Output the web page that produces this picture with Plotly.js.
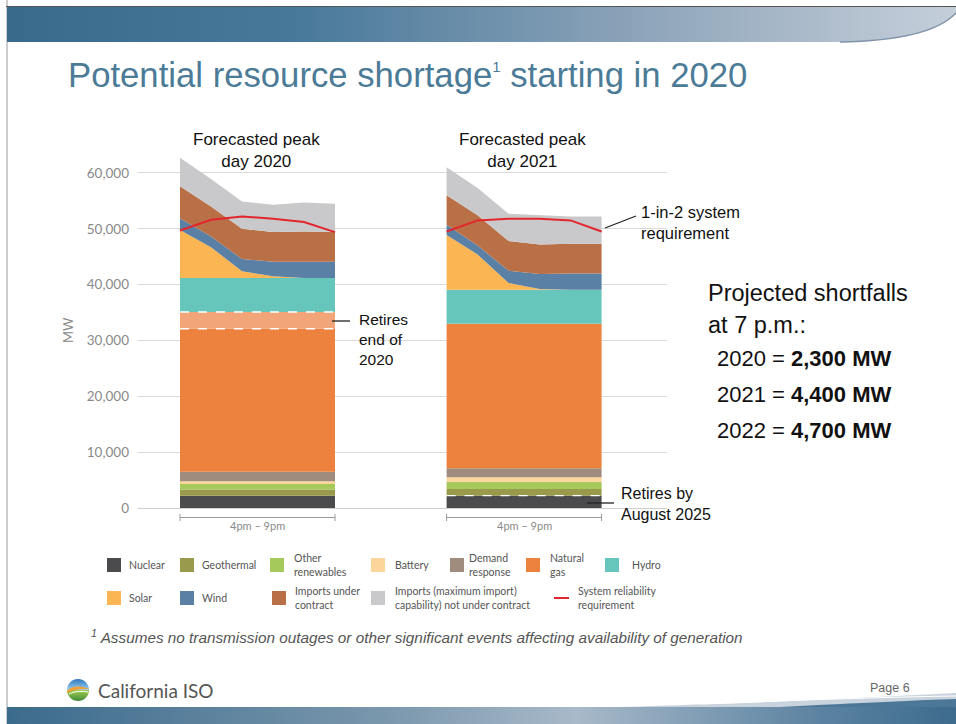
<!DOCTYPE html>
<html><head><meta charset="utf-8">
<script src="https://cdn.plot.ly/plotly-3.0.1.min.js"></script>
<style>
html,body{margin:0;padding:0;background:#fff;}
#wrap{position:relative;width:956px;height:724px;overflow:hidden;background:#fff;}
#deco{position:absolute;left:0;top:0;}
#chart{position:absolute;left:0;top:0;width:956px;height:724px;}
</style></head>
<body><div id="wrap">
<svg id="deco" width="956" height="724" xmlns="http://www.w3.org/2000/svg">
<defs>
<linearGradient id="hdr" x1="0" x2="1" y1="0" y2="0">
<stop offset="0" stop-color="#3a6a8b"/><stop offset="0.3" stop-color="#47789a"/><stop offset="0.65" stop-color="#8aa2b8"/><stop offset="0.9" stop-color="#b5c2d0"/><stop offset="1" stop-color="#c5cfdb"/>
</linearGradient>
<linearGradient id="ftr" x1="0" x2="1" y1="0" y2="0">
<stop offset="0" stop-color="#3b6b8c"/><stop offset="0.4" stop-color="#7a97ad"/><stop offset="0.6" stop-color="#a8b9c9"/><stop offset="0.85" stop-color="#5d84a2"/><stop offset="1" stop-color="#3d6b8d"/>
</linearGradient>
<linearGradient id="globeTop" x1="0" x2="0" y1="0" y2="1">
<stop offset="0" stop-color="#2f78bd"/><stop offset="1" stop-color="#9fd0f0"/>
</linearGradient>
<linearGradient id="globeBot" x1="0" x2="0" y1="0" y2="1">
<stop offset="0" stop-color="#a6cf4f"/><stop offset="1" stop-color="#3e8a3a"/>
</linearGradient>
</defs>
<line x1="7" y1="0" x2="7" y2="724" stroke="#9a9a9a" stroke-width="1"/>
<line x1="6" y1="6.5" x2="956" y2="6.5" stroke="#555" stroke-width="1"/>
<rect x="7" y="7" width="949" height="35" fill="url(#hdr)"/>
<path d="M 840 42 C 905 41 940 30 956 13 L 956 42 Z" fill="#ffffff"/>
<path d="M 840 42 C 905 41 940 30 956 13" fill="none" stroke="#8094aa" stroke-width="1.5"/>
<rect x="7" y="707" width="949" height="17" fill="url(#ftr)"/>
<path d="M 620 707 C 760 703 880 697 956 693 L 956 707 Z" fill="#c9d3dd"/>
<path d="M 780 707 C 860 703 920 700 956 699 L 956 707 Z" fill="#4d7797"/>
<path d="M 700 704 C 800 700 890 697 956 696" fill="none" stroke="#ffffff" stroke-width="1.2"/>
<g transform="translate(78,690)">
<path d="M -11 0 A 11 11 0 0 1 11 0 Z" fill="url(#globeTop)"/>
<path d="M -11 0 A 11 11 0 0 0 11 0 Z" fill="url(#globeBot)"/>
<path d="M -11 1 C -5 -5 4 -4 11 -1 C 4 -1 -4 -1 -11 3 Z" fill="#f2a033"/>
<path d="M -9 4 C -3 1 4 1 10 2" fill="none" stroke="#ffffff" stroke-width="1"/>
</g>
</svg>
<div id="chart"></div>
</div>
<script>
// ---------- data (MW) ----------
const hours = ['4pm', '5pm', '6pm', '7pm', '8pm', '9pm'];

const nuclear2020      = [2200, 2200, 2200, 2200, 2200, 2200];
const geothermal2020   = [1100, 1100, 1100, 1100, 1100, 1100];
const otherRen2020     = [1000, 1000, 1000, 1000, 1000, 1000];
const battery2020      = [500, 500, 500, 500, 500, 500];
const demandResp2020   = [1700, 1700, 1700, 1700, 1700, 1700];
const naturalGas2020   = [25600, 25600, 25600, 25600, 25600, 25600];
const gasRetire2020    = [3000, 3000, 3000, 3000, 3000, 3000];
const hydro2020        = [6100, 6100, 6100, 6100, 6100, 6100];
const solar2020        = [8600, 5500, 1200, 300, 0, 0];
const wind2020         = [2100, 1900, 2200, 2600, 2900, 2900];
const importsCon2020   = [5700, 5400, 5400, 5300, 5400, 5300];
const importsMax2020   = [5100, 4900, 4900, 4900, 5200, 5100];
const requirement2020  = [49700, 51600, 52200, 51800, 51200, 49400];

const nuclear2021      = [2200, 2200, 2200, 2200, 2200, 2200];
const geothermal2021   = [1200, 1200, 1200, 1200, 1200, 1200];
const otherRen2021     = [1300, 1300, 1300, 1300, 1300, 1300];
const battery2021      = [800, 800, 800, 800, 800, 800];
const demandResp2021   = [1600, 1600, 1600, 1600, 1600, 1600];
const naturalGas2021   = [25900, 25900, 25900, 25900, 25900, 25900];
const hydro2021        = [6100, 6100, 6100, 6100, 6100, 6100];
const solar2021        = [9800, 6300, 1200, 100, 0, 0];
const wind2021         = [1800, 1600, 2200, 2700, 2900, 2900];
const importsCon2021   = [5300, 5400, 5300, 5300, 5300, 5300];
const importsMax2021   = [5000, 4900, 4900, 5200, 4900, 4900];
const requirement2021  = [49500, 51500, 51800, 51800, 51500, 49500];

const yTicks = [0, 10000, 20000, 30000, 40000, 50000, 60000];
const timeSpanLabel = '4pm – 9pm';

const legendNames = ['Nuclear', 'Geothermal', 'Other<br>renewables', 'Battery', 'Demand<br>response', 'Natural<br>gas', 'Hydro',
                     'Solar', 'Wind', 'Imports under<br>contract', 'Imports (maximum import)<br>capability) not under contract', 'System reliability<br>requirement'];

const shortfallYears = ['2020', '2021', '2022'];
const shortfallMW = ['2,300 MW', '4,400 MW', '4,700 MW'];

// ---------- styles ----------
const C = {
  nuclear: '#4b4b4d', geothermal: '#9a9a4c', otherRen: '#a5ca5b', battery: '#fcd59a',
  demand: '#a08b7f', gas: '#ec823e', gasRetire: '#f2a578', hydro: '#67c6bc',
  solar: '#fbb552', wind: '#5b80a5', importsCon: '#b97047', importsMax: '#c9c9cb', req: '#e2262d'
};
const legendColors = [C.nuclear, C.geothermal, C.otherRen, C.battery, C.demand, C.gas, C.hydro,
                      C.solar, C.wind, C.importsCon, C.importsMax, C.req];

// plot area geometry (pixels) for placing layout text
const PL = 138, PW = 529, PB = 508, PH = 363;
const px = v => (v - PL) / PW;
const py = v => (PB - v) / PH;

const x2020 = hours.map((h, i) => i);
const x2021 = hours.map((h, i) => i + 8.6);

function layer(x, y, color, group, line) {
  return {
    type: 'scatter', mode: 'lines', x: x, y: y, stackgroup: group,
    fillcolor: color, line: line || {width: 0, color: color},
    hoverinfo: 'skip', showlegend: false
  };
}
const dashWhite = {width: 1.3, color: '#ffffff', dash: 'dash'};

const traces = [
  layer(x2020, nuclear2020, C.nuclear, 'a'),
  layer(x2020, geothermal2020, C.geothermal, 'a'),
  layer(x2020, otherRen2020, C.otherRen, 'a'),
  layer(x2020, battery2020, C.battery, 'a'),
  layer(x2020, demandResp2020, C.demand, 'a'),
  layer(x2020, naturalGas2020, C.gas, 'a', dashWhite),
  layer(x2020, gasRetire2020, C.gasRetire, 'a', dashWhite),
  layer(x2020, hydro2020, C.hydro, 'a'),
  layer(x2020, solar2020, C.solar, 'a'),
  layer(x2020, wind2020, C.wind, 'a'),
  layer(x2020, importsCon2020, C.importsCon, 'a'),
  layer(x2020, importsMax2020, C.importsMax, 'a'),

  layer(x2021, nuclear2021, C.nuclear, 'b', dashWhite),
  layer(x2021, geothermal2021, C.geothermal, 'b'),
  layer(x2021, otherRen2021, C.otherRen, 'b'),
  layer(x2021, battery2021, C.battery, 'b'),
  layer(x2021, demandResp2021, C.demand, 'b'),
  layer(x2021, naturalGas2021, C.gas, 'b'),
  layer(x2021, hydro2021, C.hydro, 'b'),
  layer(x2021, solar2021, C.solar, 'b'),
  layer(x2021, wind2021, C.wind, 'b'),
  layer(x2021, importsCon2021, C.importsCon, 'b'),
  layer(x2021, importsMax2021, C.importsMax, 'b'),

  {type: 'scatter', mode: 'lines', x: x2020, y: requirement2020, line: {color: C.req, width: 2}, hoverinfo: 'skip', showlegend: false},
  {type: 'scatter', mode: 'lines', x: x2021, y: requirement2021, line: {color: C.req, width: 2}, hoverinfo: 'skip', showlegend: false}
];

const SANS = 'Liberation Sans, Arial, sans-serif';
const GEO = 'Lato, Noto Sans, sans-serif';

const ann = [];
const shapes = [];
function txt(text, x, y, size, color, opts) {
  ann.push(Object.assign({text: text, xref: 'paper', yref: 'paper', x: px(x), y: py(y),
    xanchor: 'left', yanchor: 'middle', align: 'left', showarrow: false,
    font: {family: SANS, size: size, color: color}}, opts || {}));
}

// title
txt('Potential resource shortage<sup><span style="font-size:15px">1</span></sup> starting in 2020', 66, 75, 34.7, '#4b7b97');
// chart headings
txt('Forecasted peak<br>day 2020', 256, 150, 17, '#111', {xanchor: 'center', align: 'center'});
txt('Forecasted peak<br>day 2021', 522.5, 150, 17, '#111', {xanchor: 'center', align: 'center'});
// callouts
txt('Retires<br>end of<br>2020', 357, 339, 15.5, '#111');
txt('1-in-2 system<br>requirement', 639, 222, 16.5, '#111');
txt('Retires by<br>August 2025', 619, 504, 16, '#111');
shapes.push({type: 'line', xref: 'paper', yref: 'paper', x0: px(332), y0: py(321), x1: px(350), y1: py(321), line: {color: '#222', width: 1.3}});
shapes.push({type: 'line', xref: 'paper', yref: 'paper', x0: px(605), y0: py(228), x1: px(636), y1: py(216), line: {color: '#222', width: 1.3}});
shapes.push({type: 'line', xref: 'paper', yref: 'paper', x0: px(587), y0: py(503), x1: px(614), y1: py(503), line: {color: '#222', width: 1.3}});
// right side text
txt('Projected shortfalls', 706, 293, 23.5, '#111');
txt('at 7 p.m.:', 706, 325, 23.5, '#111');
shortfallYears.forEach((yr, i) => {
  txt(yr + ' = <b>' + shortfallMW[i] + '</b>', 715, 358 + i * 36, 22, '#111');
});
// MW axis title
txt('MW', 68, 330, 13, '#888', {xanchor: 'center', textangle: -90, font: {family: GEO, size: 13, color: '#888'}});
// time span brackets
[x2020, x2021].forEach(xs => {
  const a = xs[0], b = xs[xs.length - 1];
  shapes.push({type: 'line', xref: 'x', yref: 'paper', x0: a, x1: b, y0: py(517.5), y1: py(517.5), line: {color: '#9a9a9a', width: 1}});
  shapes.push({type: 'line', xref: 'x', yref: 'paper', x0: a, x1: a, y0: py(514), y1: py(521), line: {color: '#9a9a9a', width: 1}});
  shapes.push({type: 'line', xref: 'x', yref: 'paper', x0: b, x1: b, y0: py(514), y1: py(521), line: {color: '#9a9a9a', width: 1}});
  ann.push({text: timeSpanLabel, xref: 'x', yref: 'paper', x: (a + b) / 2, y: py(525), xanchor: 'center', yanchor: 'middle',
    showarrow: false, font: {family: GEO, size: 11, color: '#8a8a8a'}});
});
// legend
const swX = [107, 180, 270, 371, 450, 526, 605, 107, 180, 272, 371, 554];
const txX = [127, 200, 292, 393, 467, 548, 630, 127, 200, 293, 393, 576];
legendNames.forEach((name, i) => {
  const yc = i < 7 ? 565 : 598;
  if (i === legendNames.length - 1) {
    shapes.push({type: 'line', xref: 'paper', yref: 'paper', x0: px(swX[i]), x1: px(swX[i] + 15), y0: py(yc), y1: py(yc), line: {color: legendColors[i], width: 2}});
  } else {
    shapes.push({type: 'rect', xref: 'paper', yref: 'paper', x0: px(swX[i]), x1: px(swX[i] + 14), y0: py(yc + 7), y1: py(yc - 7), line: {width: 0}, fillcolor: legendColors[i]});
  }
  txt(name, txX[i], yc, 10.5, '#555', {font: {family: GEO, size: 10.5, color: '#555'}});
});
// footnote and footer
txt('<i><sup>1</sup> Assumes no transmission outages or other significant events affecting availability of generation</i>', 89, 636, 15.3, '#555');
txt('California ISO', 96, 690, 19, '#555', {font: {family: GEO, size: 19, color: '#555'}});
txt('Page 6', 868, 688, 12.5, '#666');

const layout = {
  width: 956, height: 724, autosize: false,
  margin: {l: PL, r: 956 - PL - PW, t: PB - PH, b: 724 - PB, pad: 0},
  paper_bgcolor: 'rgba(0,0,0,0)', plot_bgcolor: 'rgba(0,0,0,0)',
  showlegend: false, hovermode: false,
  xaxis: {range: [-1.355, 15.71], showgrid: false, zeroline: false, showticklabels: false, showline: false, fixedrange: true},
  yaxis: {range: [0, 65000], tickvals: yTicks, tickformat: ',d', showgrid: true, gridcolor: '#d9d9d9', gridwidth: 1,
    zeroline: true, zerolinecolor: '#d0d0d0', zerolinewidth: 1, showline: false, ticks: '', ticklabelstandoff: 8,
    tickfont: {family: GEO, size: 13.5, color: '#8a8a8a'}, fixedrange: true},
  annotations: ann,
  shapes: shapes
};

Plotly.newPlot('chart', traces, layout, {staticPlot: true, displayModeBar: false});
</script>
</body></html>
